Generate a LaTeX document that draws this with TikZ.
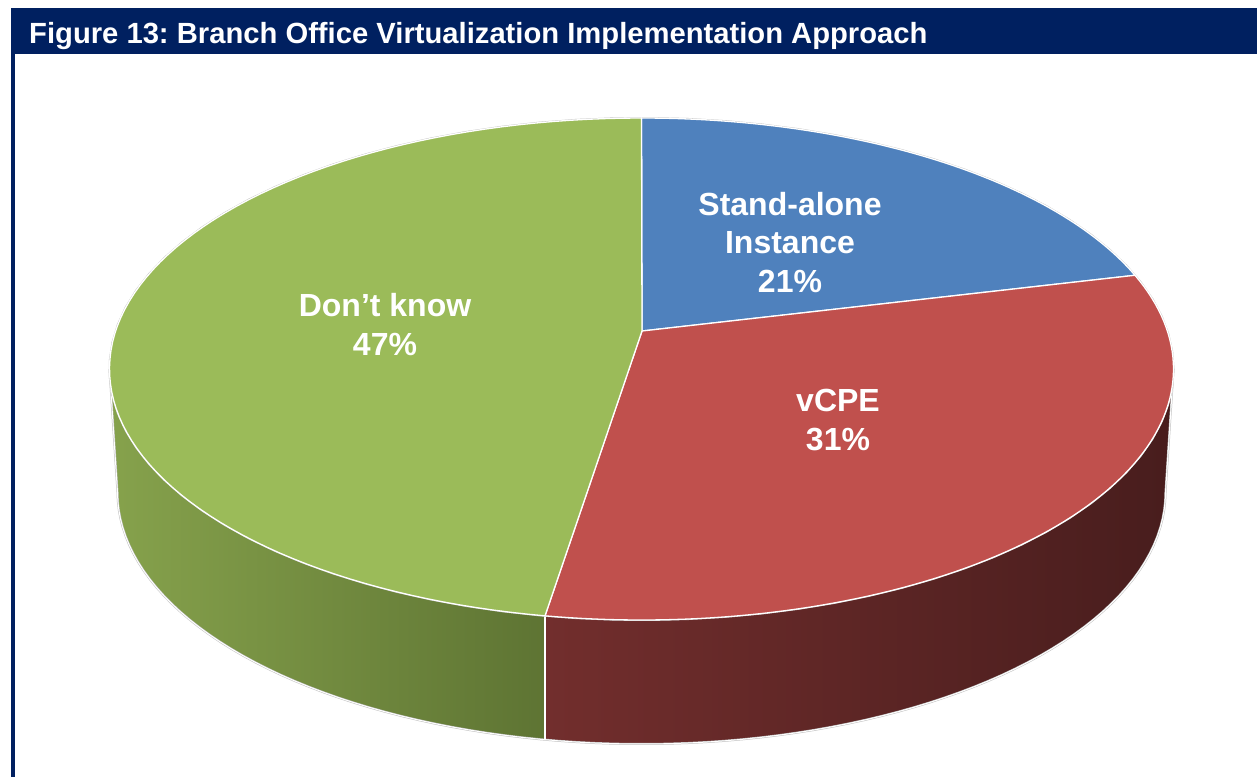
\documentclass[tikz,border=0pt]{standalone}
\usepackage{fontspec}
\setmainfont{Liberation Sans}
\frenchspacing
\definecolor{navy}{RGB}{0,32,96}
\definecolor{pieblue}{RGB}{79,129,189}
\definecolor{piered}{RGB}{192,80,77}
\definecolor{piegreen}{RGB}{155,187,89}
\definecolor{gsideL}{RGB}{134,162,76}
\definecolor{gsideR}{RGB}{94,116,51}
\definecolor{rsideL}{RGB}{114,46,45}
\definecolor{rsideR}{RGB}{72,29,29}
\begin{document}
\begin{tikzpicture}[x=1pt,y=-1pt,
  slicetop/.style={draw=white,line width=1.3pt,line join=round},
  rim/.style={draw=gray!50,line width=2pt,line join=round},
  rimwhite/.style={draw=white,line width=1pt,line join=round},
  lbl/.style={text=white,font=\bfseries\fontsize{32}{38.5}\selectfont,align=center,inner sep=0pt},
  smp/.style={samples=90,variable=\t}]
\useasboundingbox (0,0) rectangle (1257,777);
\fill[white] (0,0) rectangle (1257,777);
% frame: title band and left rule
\fill[navy] (11,8) rectangle (1257,54);
\fill[navy] (11,54) rectangle (15,777);
\node[anchor=base west,text=white,font=\bfseries\fontsize{29.2}{34}\selectfont,inner sep=0pt]
  (title) at (29,43) {Figure 13: Branch Office Virtualization Implementation Approach};
% pie centre on the top face
\coordinate (A) at (642,331);
% side walls (top rim: centre 641.5/369, radii 532/251; bottom rim: centre 641.5/492, radii 524/252)
\shade[left color=gsideL,right color=gsideR]
  plot[smp,domain=180:259.55] ({641.5+532*cos(\t)},{369-251*sin(\t)})
  -- plot[smp,domain=259.39:180] ({641.5+524*cos(\t)},{492-252*sin(\t)}) -- cycle;
\shade[left color=rsideL,right color=rsideR]
  plot[smp,domain=259.55:360] ({641.5+532*cos(\t)},{369-251*sin(\t)})
  -- plot[smp,domain=360:259.39] ({641.5+524*cos(\t)},{492-252*sin(\t)}) -- cycle;
% outline of the side walls
\draw[rim] plot[smp,domain=180:360] ({641.5+524*cos(\t)},{492-252*sin(\t)});
\draw[rim] (109.5,369) -- (117.5,492);
\draw[rim] (1173.5,369) -- (1165.5,492);
\draw[rimwhite] plot[smp,domain=180:360] ({641.5+524*cos(\t)},{492-252*sin(\t)});
\draw[rimwhite] (109.5,369) -- (117.5,492);
\draw[rimwhite] (1173.5,369) -- (1165.5,492);
\draw[white,line width=1.3pt] (545,615.8) -- (545,739.7);
% top rim halo
\draw[rim] plot[smp,domain=0:360] ({641.5+532*cos(\t)},{369-251*sin(\t)});
% top faces of the slices
\filldraw[fill=pieblue,slicetop] (A)
  -- plot[smp,domain=90:21.93] ({641.5+532*cos(\t)},{369-251*sin(\t)}) -- cycle;
\filldraw[fill=piered,slicetop] (A)
  -- plot[smp,domain=21.93:-100.45] ({641.5+532*cos(\t)},{369-251*sin(\t)}) -- cycle;
\filldraw[fill=piegreen,slicetop] (A)
  -- plot[smp,domain=259.55:90] ({641.5+532*cos(\t)},{369-251*sin(\t)}) -- cycle;
% slice labels (base = baseline of the last line)
\node[lbl,anchor=base] (standalone) at (790,292) {Stand-alone\\Instance\\21\%};
\node[lbl,anchor=base] (dontknow) at (385,355) {Don’t know\\47\%};
\node[lbl,anchor=base] (vcpe) at (838,450) {vCPE\\31\%};
\end{tikzpicture}
\end{document}
